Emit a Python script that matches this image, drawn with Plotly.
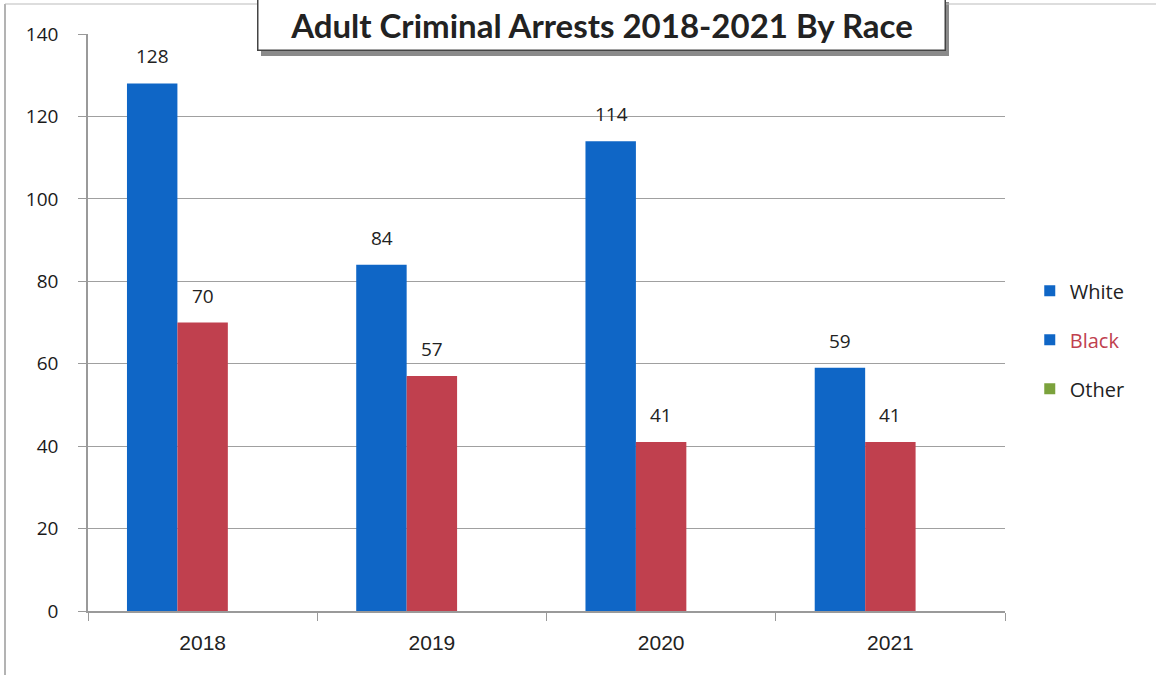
import plotly.graph_objects as go

years = ["2018", "2019", "2020", "2021"]
white = [128, 84, 114, 59]
black = [70, 57, 41, 41]
other = [0, 0, 0, 0]
y_ticks = [0, 20, 40, 60, 80, 100, 120, 140]

BLUE = "#0f66c6"
RED = "#c0404e"
GREEN = "#7ba23c"
FONT = "Open Sans"

fig = go.Figure()
for vals, col in ((white, BLUE), (black, RED), (other, GREEN)):
    fig.add_trace(go.Bar(x=years, y=vals, marker=dict(color=col, line=dict(width=0)),
                         showlegend=False))

# legend-only entries (replicating the original legend look)
leg = [("White", BLUE, "#222222"), ("Black", BLUE, RED), ("Other", GREEN, "#222222")]
for i, (nm, mc, tc) in enumerate(leg):
    fig.add_trace(go.Scatter(x=[None], y=[None], mode="markers",
                             marker=dict(color=mc, symbol="square", size=11),
                             legendgroup=str(i), hoverinfo="skip",
                             name=f"<span style='color:{tc}'>{nm}</span>", showlegend=True))

# data labels (x given as category index)
for s, vals in ((-50, white), (0, black)):
    for i, v in enumerate(vals):
        fig.add_annotation(x=i, y=v, text=str(v), showarrow=False, xshift=s, yshift=27,
                           font=dict(family=FONT, size=19, color="#222222"))

fig.update_layout(
    width=1156, height=675,
    margin=dict(l=88, r=151, t=34, b=64, autoexpand=False),
    paper_bgcolor="white", plot_bgcolor="white",
    barmode="group", bargap=0.34, bargroupgap=0,
    font=dict(family=FONT, color="#222222"),
    legend=dict(x=1.027, y=0.47, xanchor="left", yanchor="middle",
                font=dict(family=FONT, size=20, color="#222222"),
                tracegroupgap=20, itemwidth=30),
    xaxis=dict(type="category", showline=True, linecolor="#9a9a9a", linewidth=1.5, ticks="outside",
               tickson="boundaries", ticklen=8, tickcolor="#9a9a9a", automargin=False,
               tickfont=dict(family="Liberation Sans", size=21, color="#222222"),
               ticklabelstandoff=12,
               showgrid=False, tickangle=0, range=[-0.5, 3.5]),
    yaxis=dict(range=[0, 140], tickvals=y_ticks, showline=True, linecolor="#9a9a9a",
               linewidth=1.5, ticks="outside", ticklen=8, tickcolor="#9a9a9a",
               gridcolor="#a0a0a0", gridwidth=1.2, zeroline=False, automargin=False,
               ticklabelstandoff=16,
               tickfont=dict(family=FONT, size=19, color="#1a1a1a")),
)

# title box with shadow
fig.add_shape(type="rect", xref="paper", yref="paper",
              x0=(261 - 88) / 917, x1=(949 - 88) / 917,
              y0=(611 - 56) / 577, y1=(611 - 2) / 577,
              fillcolor="#8a8a8a", line=dict(width=0), layer="above")
fig.add_annotation(xref="paper", yref="paper", x=(601 - 88) / 917, y=(611 - 25) / 577,
                   text="<b>Adult Criminal Arrests 2018-2021 By Race</b>", showarrow=False,
                   font=dict(family="Lato", size=33, color="#222222"),
                   bgcolor="white", bordercolor="#444444", borderwidth=1.5,
                   width=684, height=48, xanchor="center", yanchor="middle")

# outer image frame lines
fig.add_shape(type="line", xref="paper", yref="paper", x0=(5 - 88) / 917, x1=(5 - 88) / 917,
              y0=(611 - 675) / 577, y1=(611 - 4) / 577, line=dict(color="#9a9a9a", width=1.5))
fig.add_shape(type="line", xref="paper", yref="paper", x0=(5 - 88) / 917, x1=(1156 - 88) / 917,
              y0=(611 - 4) / 577, y1=(611 - 4) / 577, line=dict(color="#bbbbbb", width=1))

fig.write_html("out.html", config={"displayModeBar": False},
               post_script="document.body.style.margin='0px';")
